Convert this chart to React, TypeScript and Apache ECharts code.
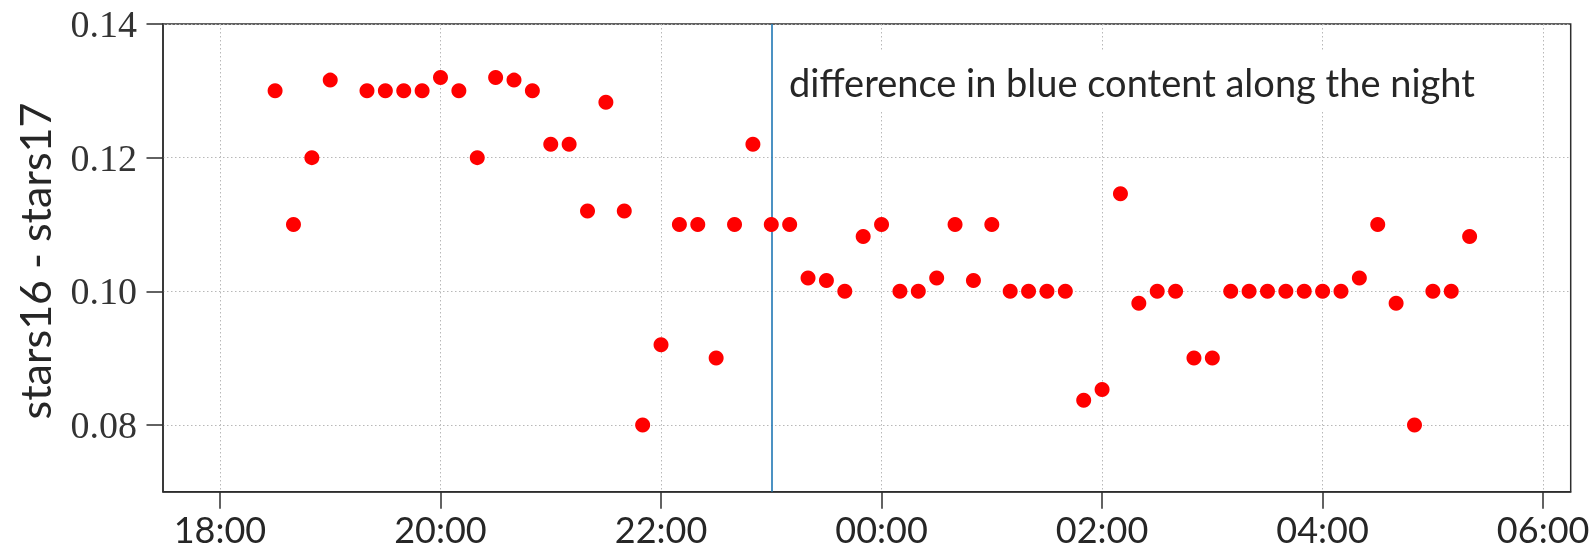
import React, { useEffect, useRef } from "react";
import * as echarts from "echarts";

// Observation times (local clock, 10-minute cadence) and the measured colour difference
const times = [
  "18:30", "18:40", "18:50", "19:00", "19:20", "19:30", "19:40", "19:50",
  "20:00", "20:10", "20:20", "20:30", "20:40", "20:50", "21:00", "21:10",
  "21:20", "21:30", "21:40", "21:50", "22:00", "22:10", "22:20", "22:30",
  "22:40", "22:50", "23:00", "23:10", "23:20", "23:30", "23:40", "23:50",
  "00:00", "00:10", "00:20", "00:30", "00:40", "00:50", "01:00", "01:10",
  "01:20", "01:30", "01:40", "01:50", "02:00", "02:10", "02:20", "02:30",
  "02:40", "02:50", "03:00", "03:10", "03:20", "03:30", "03:40", "03:50",
  "04:00", "04:10", "04:20", "04:30", "04:40", "04:50", "05:00", "05:10",
  "05:20",
];
const values = [
  0.130, 0.110, 0.120, 0.1316, 0.130, 0.130, 0.130, 0.130,
  0.132, 0.130, 0.120, 0.132, 0.1316, 0.130, 0.122, 0.122,
  0.112, 0.1283, 0.112, 0.080, 0.092, 0.110, 0.110, 0.090,
  0.110, 0.122, 0.110, 0.110, 0.102, 0.1016, 0.100, 0.1082,
  0.110, 0.100, 0.100, 0.102, 0.110, 0.1016, 0.110, 0.100,
  0.100, 0.100, 0.100, 0.0837, 0.0853, 0.1146, 0.0982, 0.100,
  0.100, 0.090, 0.090, 0.100, 0.100, 0.100, 0.100, 0.100,
  0.100, 0.100, 0.102, 0.110, 0.0982, 0.080, 0.100, 0.100,
  0.1082,
];

const xTickTimes = ["18:00", "20:00", "22:00", "00:00", "02:00", "04:00", "06:00"];
const yTicks = [0.08, 0.1, 0.12, 0.14];
const xRange = ["17:29", "06:15"];
const yRange = [0.07, 0.14];
const markerTime = "23:00";
const yTitle = "stars16 - stars17";
const annotation = "difference in blue content along the night";

// Clock time -> hours on a continuous evening-to-morning scale
const toHours = (t: string) => {
  const [h, m] = t.split(":").map(Number);
  const v = h + m / 60;
  return v < 12 ? v + 24 : v;
};

const fmtHour = (v: number) => {
  const h = Math.round(v) % 24;
  return (h < 10 ? "0" : "") + h + ":00";
};

const SANS = "Lato, 'Open Sans', sans-serif";
const SERIF = "'Liberation Serif', 'DejaVu Serif', serif";
const INK = "#262626";
const SPINE = "#2e2e2e";
const GRID = "#b8b8b8";

export default function App() {
  const ref = useRef<HTMLDivElement>(null);

  useEffect(() => {
    if (!ref.current) return;
    const chart = echarts.init(ref.current, undefined, { renderer: "svg" });
    const xTicks = xTickTimes.map(toHours);
    const points = times.map((t, i) => [toHours(t), values[i]]);

    chart.setOption({
      animation: false,
      grid: {
        left: 163,
        top: 24,
        right: 22.3,
        bottom: 59.3,
        show: true,
        borderColor: SPINE,
        borderWidth: 1.5,
        backgroundColor: "transparent",
        containLabel: false,
        outerBoundsMode: "none",
      },
      xAxis: {
        type: "value",
        min: toHours(xRange[0]),
        max: toHours(xRange[1]),
        axisLine: { show: true, lineStyle: { color: SPINE, width: 1.5 } },
        axisTick: {
          show: true,
          inside: false,
          length: 17,
          customValues: xTicks,
          lineStyle: { color: SPINE, width: 1.5 },
        },
        axisLabel: {
          customValues: xTicks,
          formatter: fmtHour,
          fontFamily: SANS,
          fontSize: 36,
          lineHeight: 36,
          color: INK,
          margin: 19,
        },
        splitLine: {
          show: true,
          lineStyle: { color: GRID, width: 1, type: [1.5, 2.5] },
        },
      },
      yAxis: {
        type: "value",
        min: yRange[0],
        max: yRange[1],
        axisLine: { show: true, lineStyle: { color: SPINE, width: 1.5 } },
        axisTick: {
          show: true,
          inside: false,
          length: 16.5,
          customValues: yTicks,
          lineStyle: { color: SPINE, width: 1.5 },
        },
        axisLabel: {
          customValues: yTicks,
          formatter: (v: number) => v.toFixed(2),
          fontFamily: SERIF,
          fontSize: 38,
          color: "#333333",
          margin: 26,
        },
        splitLine: {
          show: true,
          lineStyle: { color: GRID, width: 1, type: [1.5, 2.5] },
        },
      },
      series: [
        {
          type: "scatter",
          data: points,
          symbol: "circle",
          symbolSize: 15,
          itemStyle: { color: "#ff0000", opacity: 1 },
          z: 5,
          markLine: {
            silent: true,
            symbol: ["none", "none"],
            label: { show: false },
            lineStyle: { color: "#1f77b4", width: 1.6, type: "solid" },
            data: [{ xAxis: toHours(markerTime) }],
          },
        },
      ],
      graphic: [
        {
          type: "text",
          x: 34,
          y: 261,
          rotation: Math.PI / 2,
          style: {
            text: yTitle,
            font: `43px ${SANS}`,
            fill: INK,
            align: "center",
            verticalAlign: "middle",
          },
        },
        {
          type: "text",
          x: 779,
          y: 52,
          z: 100,
          style: {
            text: annotation,
            font: `38px ${SANS}`,
            fill: INK,
            backgroundColor: "#ffffff",
            padding: [11, 10, 11, 10],
            align: "left",
            verticalAlign: "top",
          },
        },
      ],
    });

    return () => chart.dispose();
  }, []);

  return (
    <div
      ref={ref}
      style={{ position: "fixed", left: 0, top: 0, width: 1593, height: 551 }}
    />
  );
}
